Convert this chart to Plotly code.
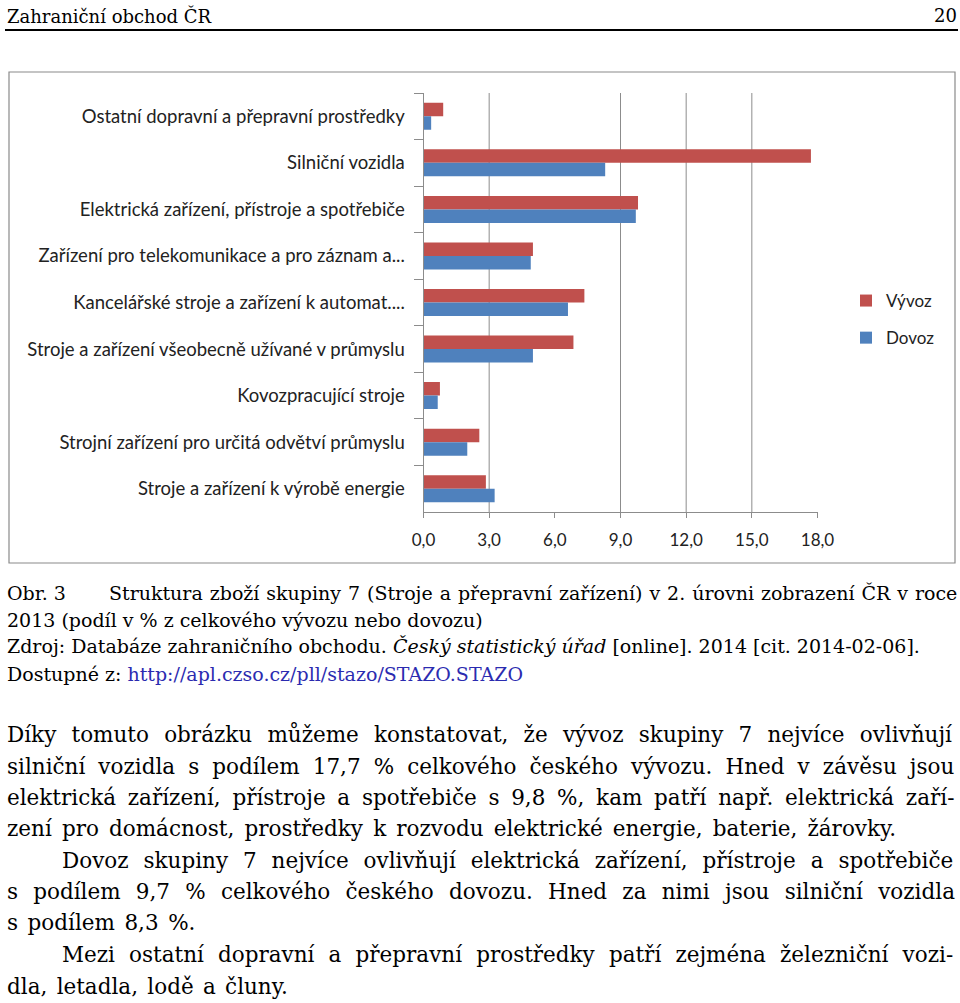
import plotly.graph_objects as go

# ---------------- data ----------------
categories = [
    "Ostatní dopravní a přepravní prostředky",
    "Silniční vozidla",
    "Elektrická zařízení, přístroje a spotřebiče",
    "Zařízení pro telekomunikace a pro záznam a...",
    "Kancelářské stroje a zařízení k automat....",
    "Stroje a zařízení všeobecně užívané v průmyslu",
    "Kovozpracující stroje",
    "Strojní zařízení pro určitá odvětví průmyslu",
    "Stroje a zařízení k výrobě energie",
]
vyvoz = [0.9, 17.7, 9.8, 5.0, 7.35, 6.85, 0.75, 2.55, 2.85]
dovoz = [0.35, 8.3, 9.7, 4.9, 6.6, 5.0, 0.65, 2.0, 3.25]
x_ticks = [0, 3, 6, 9, 12, 15, 18]
grid_vals = [3, 9, 12, 15]

W, H = 960, 1003
def px(x): return x / W
def py(y): return 1 - y / H

RED = "#C0504D"
BLUE = "#4F81BD"
GRID = "#8c8c8c"
LBL_FONT = "Lato"
SERIF = "DejaVu Serif"

fig = go.Figure()
fig.add_trace(go.Bar(y=categories, x=vyvoz, name="Vývoz", orientation="h",
                     marker=dict(color=RED, line=dict(width=0)), legendgroup="a"))
fig.add_trace(go.Bar(y=categories, x=dovoz, name="Dovoz", orientation="h",
                     marker=dict(color=BLUE, line=dict(width=0)), legendgroup="b"))

shapes = []
shapes.append(dict(type="rect", xref="paper", yref="paper", x0=px(9), x1=px(955),
                   y0=py(563), y1=py(72), line=dict(color="#8a8a8a", width=1.2), layer="below"))
shapes.append(dict(type="line", xref="paper", yref="paper", x0=px(5), x1=px(958),
                   y0=py(30), y1=py(30), line=dict(color="black", width=2)))
for g in grid_vals:
    shapes.append(dict(type="line", xref="x", yref="paper", x0=g, x1=g,
                       y0=py(512), y1=py(93), line=dict(color=GRID, width=1), layer="below"))

ann = []
def text(x, y, s, size, anchor="left", color="black", family=SERIF, ws=0):
    if ws:
        s = f"<span style='word-spacing:{ws}px'>{s}</span>"
    ann.append(dict(xref="paper", yref="paper", x=px(x), y=py(y), text=s, showarrow=False,
                    xanchor=anchor, yanchor="middle", align=anchor,
                    font=dict(family=family, size=size, color=color)))

text(5, 16, "Zahraniční obchod ČR", 18)
text(959, 16, "20", 18, anchor="right")

cap = 19
text(5, 593, "Obr. 3", cap)
text(107, 593, "Struktura zboží skupiny 7 (Stroje a přepravní zařízení) v 2. úrovni zobrazení ČR v roce", cap, ws=0.9)
text(5, 620, "2013 (podíl v % z celkového vývozu nebo dovozu)", cap)
text(5, 646, "Zdroj: Databáze zahraničního obchodu. <i>Český statistický úřad</i> [online]. 2014 [cit. 2014-02-06].", cap)
text(5, 674, "Dostupné z: <span style='color:#2b2bb0'>http://apl.czso.cz/pll/stazo/STAZO.STAZO</span>", cap)

body = 21.5
body_lines = [
    (5, 734, "Díky tomuto obrázku můžeme konstatovat, že vývoz skupiny 7 nejvíce ovlivňují", 8.4),
    (5, 766, "silniční vozidla s podílem 17,7 % celkového českého vývozu. Hned v závěsu jsou", 6.25),
    (5, 797, "elektrická zařízení, přístroje a spotřebiče s 9,8 %, kam patří např. elektrická zaří-", 4.9),
    (5, 828, "zení pro domácnost, prostředky k rozvodu elektrické energie, baterie, žárovky.", 3.3),
    (60, 860, "Dovoz skupiny 7 nejvíce ovlivňují elektrická zařízení, přístroje a spotřebiče", 8.1),
    (5, 891, "s podílem 9,7 % celkového českého dovozu. Hned za nimi jsou silniční vozidla", 8.4),
    (5, 922, "s podílem 8,3 %.", 2.7),
    (60, 954, "Mezi ostatní dopravní a přepravní prostředky patří zejména železniční vozi-", 7.3),
    (5, 986, "dla, letadla, lodě a čluny.", 2.5),
]
for x, y, s, ws in body_lines:
    text(x, y, s, body, ws=ws)

fig.update_layout(
    width=W, height=H,
    margin=dict(l=0, r=0, t=0, b=0, autoexpand=False),
    paper_bgcolor="white", plot_bgcolor="white",
    barmode="group", bargap=0.42, bargroupgap=0,
    separators=", ",
    showlegend=True,
    legend=dict(x=px(940), y=py(283), xanchor="right", yanchor="top",
                traceorder="grouped", tracegroupgap=12,
                font=dict(family=LBL_FONT, size=17, color="#222"),
                bgcolor="rgba(0,0,0,0)"),
    xaxis=dict(domain=[px(423.5), px(817.5)], range=[0, 18], tickvals=x_ticks,
               tickformat=".1f", showgrid=False, zeroline=False, automargin=False,
               showline=True, linecolor=GRID, linewidth=1,
               ticks="outside", ticklen=5, tickcolor=GRID, ticklabelstandoff=8,
               tickfont=dict(family=LBL_FONT, size=17, color="#222")),
    yaxis=dict(domain=[py(512), py(93)], autorange="reversed", type="category",
               showgrid=False, zeroline=False, showline=True, linecolor=GRID, linewidth=1,
               automargin=False,
               ticks="outside", ticklen=9, tickcolor=GRID, tickson="boundaries",
               ticklabelstandoff=14,
               tickfont=dict(family=LBL_FONT, size=18.5, color="#222")),
    shapes=shapes,
    annotations=ann,
)

fig.write_html("out.html", config={"displayModeBar": False},
               post_script="document.body.style.margin='0';document.body.style.overflow='hidden';")
